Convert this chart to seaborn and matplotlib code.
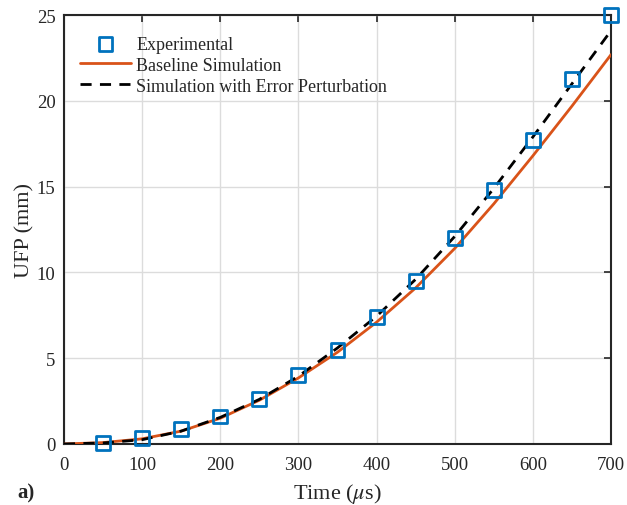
import matplotlib
matplotlib.use("Agg")
import matplotlib.pyplot as plt
import seaborn as sns
import pandas as pd

# Measured fracture propagation and two simulation runs
exp_time = [50, 100, 150, 200, 250, 300, 350, 400, 450, 500, 550, 600, 650, 700]
exp_ufp = [0.05, 0.35, 0.85, 1.6, 2.6, 4.0, 5.5, 7.4, 9.5, 12.0, 14.8, 17.7, 21.3, 25.0]

sim_time = [0, 50, 100, 150, 200, 250, 300, 350, 400, 450, 500, 550, 600, 650, 700]
baseline_ufp = [0.0, 0.08, 0.3, 0.75, 1.5, 2.55, 3.85, 5.35, 7.1, 9.1, 11.4, 14.0, 16.8, 19.7, 22.7]
perturbed_ufp = [0.0, 0.06, 0.25, 0.75, 1.55, 2.6, 3.95, 5.6, 7.45, 9.6, 12.1, 14.9, 17.9, 21.0, 24.1]

x_ticks = [0, 100, 200, 300, 400, 500, 600, 700]
y_ticks = [0, 5, 10, 15, 20, 25]

sns.set_theme(style="white")
plt.rcParams["font.family"] = ["Liberation Serif", "DejaVu Serif"]
plt.rcParams["mathtext.fontset"] = "stix"

exp_df = pd.DataFrame({"t": exp_time, "u": exp_ufp})
sim_df = pd.DataFrame({"t": sim_time, "base": baseline_ufp, "pert": perturbed_ufp})

fig = plt.figure(figsize=(6.27, 5.06), dpi=100)
ax = fig.add_axes([0.102, 0.1206, 0.8725, 0.8474])

sns.scatterplot(data=exp_df, x="t", y="u", ax=ax, marker="s", s=100,
                facecolors="none", edgecolor="#0072BD", linewidth=2,
                label="Experimental", zorder=4, clip_on=False)
sns.lineplot(data=sim_df, x="t", y="base", ax=ax, color="#D95319", linewidth=2,
             label="Baseline Simulation", zorder=3)
sns.lineplot(data=sim_df, x="t", y="pert", ax=ax, color="black", linewidth=2,
             linestyle=(0, (4, 3)), label="Simulation with Error Perturbation", zorder=3)

ax.set_xlim(0, 700)
ax.set_ylim(0, 25)
ax.set_xticks(x_ticks)
ax.set_yticks(y_ticks)
ax.grid(True, color="#dcdcdc", linewidth=1)
ax.set_axisbelow(True)
ax.tick_params(direction="in", length=5, width=1.2, top=True, right=True,
               labelsize=13.5, colors="#262626")
ax.tick_params(axis="x", pad=8.5)
ax.tick_params(axis="y", pad=6)
for sp in ax.spines.values():
    sp.set_visible(True)
    sp.set_color("#262626")
    sp.set_linewidth(1.5)

ax.set_xlabel(r"Time ($\mu$s)", fontsize=16, color="#262626", labelpad=6)
ax.set_ylabel("UFP (mm)", fontsize=16, color="#262626", labelpad=2)

leg = ax.legend(loc="upper left", frameon=False, fontsize=13, handlelength=2.8,
                borderaxespad=0.5, labelspacing=0.22, handletextpad=0.3,
                bbox_to_anchor=(0.0, 0.99))
for t in leg.get_texts():
    t.set_color("#262626")

fig.text(0.028, 0.004, "a)", fontsize=15, fontweight="bold", color="#262626",
         va="bottom")

fig.savefig("out.png", dpi=100)
